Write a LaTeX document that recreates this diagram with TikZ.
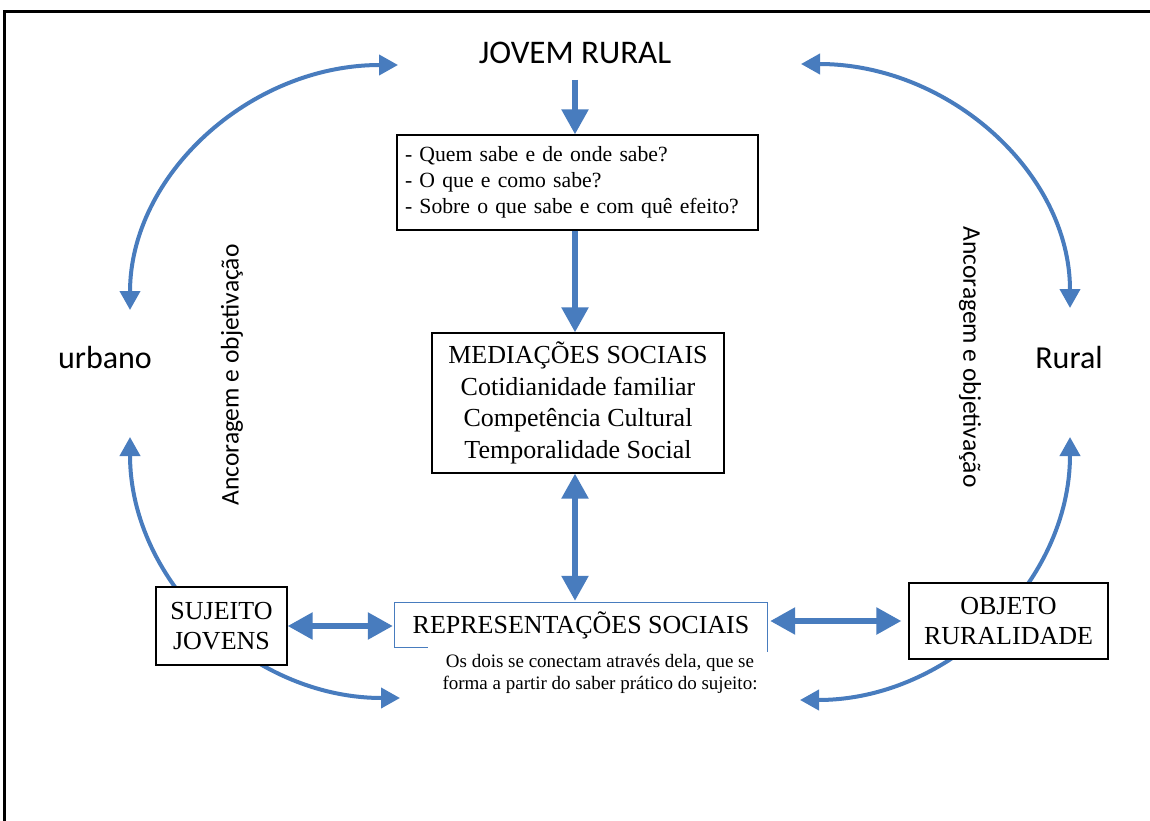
\documentclass[tikz,border=0pt]{standalone}
\usepackage{fontspec}
\setmainfont{Liberation Serif}
\newfontfamily\calfont{Carlito}
\usetikzlibrary{arrows.meta}
\definecolor{arrblue}{RGB}{72,124,190}
\tikzset{
  box/.style={draw=black, line width=1.3pt, fill=white, inner sep=0pt, align=center},
  bigarrow/.style={draw=arrblue, line width=5.5pt, -{Triangle[length=25pt,width=26pt]}},
  bigdouble/.style={draw=arrblue, line width=5.5pt, {Triangle[length=25pt,width=26pt]}-{Triangle[length=25pt,width=26pt]}},
  arcarrow/.style={draw=arrblue, line width=4pt, {Triangle[length=19pt,width=20pt]}-{Triangle[length=19pt,width=20pt]}},
  sans/.style={font=\calfont\fontsize{33}{40}\selectfont, inner sep=0pt},
  side/.style={font=\calfont\fontsize{25.5}{30}\selectfont, inner sep=0pt},
}
\begin{document}
\begin{tikzpicture}[x=1pt, y=-1pt]
\useasboundingbox (0,0) rectangle (1150,821);
\fill[white] (0,0) rectangle (1150,821);
% frame
\draw[line width=3pt] (4,840) -- (4,12) -- (1170,12);

% curved arrows
\coordinate (tl1) at (130,310);
\coordinate (tl2) at (398,65);
\coordinate (tr1) at (801,64);
\coordinate (tr2) at (1070,308);
\coordinate (bl1) at (130,437);
\coordinate (bl2) at (400,698);
\coordinate (br1) at (1070,437);
\coordinate (br2) at (800,700);
\draw[arcarrow] (tl1) .. controls (130,175) and (250,65) .. (tl2);
\draw[arcarrow] (tr1) .. controls (949,64) and (1070,173) .. (tr2);
\draw[arcarrow] (bl1) .. controls (130,581) and (251,698) .. (bl2);
\draw[arcarrow] (br1) .. controls (1070,582) and (949,700) .. (br2);

% title
\node[sans, anchor=base] (jr) at (575,64) {JOVEM RURAL};

% questions box
\node[box, minimum height=95pt, text width=345pt, inner xsep=8pt, align=left,
      font=\fontsize{21.7}{26}\selectfont] (q) at (577.5,182.5)
  {- Quem sabe e de onde sabe?\\- O que e como sabe?\\- Sobre o que sabe e com quê efeito?};

% mediations box
\node[box, minimum width=292pt, minimum height=140pt,
      font=\fontsize{26}{31.5}\selectfont] (m) at (578,403)
  {MEDIAÇÕES SOCIAIS\\Cotidianidade familiar\\Competência Cultural\\Temporalidade Social};

% representations
\node[inner sep=0pt, minimum width=372pt, minimum height=44pt,
      font=\fontsize{26}{31}\selectfont] (rep) at (581,625) {REPRESENTAÇÕES SOCIAIS};
\draw[arrblue, line width=1.2pt] ([xshift=33pt]rep.south west) -- (rep.south west) -- (rep.north west) -- (rep.north east) -- ([yshift=-5pt]rep.south east);

\node[inner sep=0pt, align=center, font=\fontsize{19}{22.5}\selectfont] (note) at (600,674)
  {Os dois se conectam através dela, que se\\forma a partir do saber prático do sujeito:};

% subject and object
\node[box, minimum width=131pt, minimum height=78pt,
      font=\fontsize{26}{30}\selectfont] (suj) at (221.5,626) {SUJEITO\\JOVENS};
\node[box, minimum width=199pt, minimum height=76pt,
      font=\fontsize{26}{30}\selectfont] (obj) at (1008.5,621) {OBJETO\\RURALIDADE};

% side labels
\node[sans, font=\calfont\fontsize{32}{38}\selectfont] (urb) at (105,358) {urbano};
\node[sans, font=\calfont\fontsize{32}{38}\selectfont] (rur) at (1069,358) {Rural};
\node[side, rotate=90] (ancL) at (232,375) {Ancoragem e objetivação};
\node[side, rotate=-90] (ancR) at (970,357) {Ancoragem e objetivação};

% straight arrows
\draw[bigarrow, shorten <=16pt] (jr.base) -- (jr.base |- q.north);
\draw[bigarrow] (jr.base |- q.south) -- (jr.base |- m.north);
\draw[bigdouble, shorten >=2pt] (jr.base |- m.south) -- (jr.base |- rep.north);
\draw[bigdouble, shorten >=2pt] (suj.east) -- (rep.west |- suj.east);
\draw[bigdouble, shorten <=3pt, shorten >=7pt] (rep.east |- obj.west) -- (obj.west);
\end{tikzpicture}
\end{document}
